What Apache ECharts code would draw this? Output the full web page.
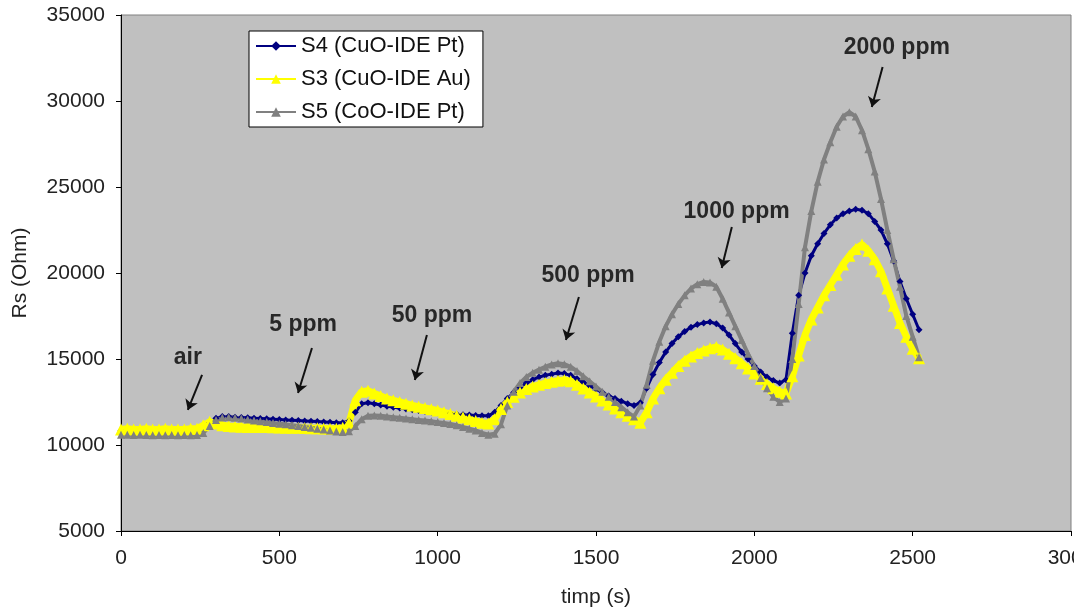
<!DOCTYPE html>
<html>
<head>
<meta charset="utf-8">
<script src="https://cdn.jsdelivr.net/npm/echarts@6/dist/echarts.min.js"></script>
<style>
  html, body { margin: 0; padding: 0; background: #fff; }
  #root { width: 1074px; height: 615px; }
</style>
</head>
<body>
<div id="root"></div>
<script>
// Rs (Ohm), sampled every 20 s from 0 to 2520 s
var s4 = [
  10850, 10800, 10800, 10820, 10800, 10780, 10800, 10800, 10780, 10800, 10800, 10780, 10800,
  10950, 11300, 11550, 11650, 11650, 11620, 11600, 11580, 11560, 11540, 11520, 11500, 11480, 11460, 11440, 11420, 11400, 11380, 11360, 11340, 11320, 11300, 11300,
  11400, 11900, 12400, 12450, 12400, 12330, 12260, 12200, 12150, 12100, 12050, 12000, 11960, 11920, 11880, 11850, 11820, 11790, 11760, 11740, 11720, 11700, 11700,
  11900, 12300, 12700, 13050, 13350, 13600, 13800, 13950, 14050, 14120, 14180, 14150, 14050, 13850, 13650, 13450, 13250, 13050, 12850, 12700, 12550, 12400, 12300,
  12450, 13300, 14100, 14800, 15400, 15900, 16300, 16600, 16850, 17000, 17100, 17150, 17050, 16800, 16400, 15900, 15400, 15000, 14600, 14250, 13950, 13750, 13600,
  13800, 16500, 18700, 20000, 21000, 21700, 22300, 22800, 23200, 23450, 23600, 23700, 23650, 23450, 23000, 22500, 21700, 20700, 19500, 18500, 17600, 16700
]
var s3 = [
  10900, 10950, 10900, 10900, 10950, 10900, 10900, 10950, 10900, 10900, 10900, 10950, 10950,
  11150, 11350, 11250, 11150, 11100, 11080, 11060, 11050, 11050, 11050, 11040, 11030, 11020, 11010, 11000, 11000, 10990, 10980, 10970, 10960, 10950, 10950, 11000,
  11300, 12600, 13100, 13150, 13000, 12850, 12700, 12600, 12500, 12400, 12300, 12230, 12150, 12080, 12000, 11900, 11800, 11700, 11600, 11500, 11400, 11300, 11250,
  11500, 12100, 12500, 12800, 13050, 13250, 13400, 13500, 13600, 13680, 13740, 13780, 13700, 13500, 13280, 13050, 12820, 12580, 12350, 12120, 11900, 11700, 11500,
  11300, 11900, 12700, 13300, 13800, 14200, 14600, 14900, 15150, 15350, 15500, 15620, 15700, 15550, 15300, 15050, 14750, 14450, 14150, 13850, 13550, 13300, 13100,
  13000, 14000, 15200, 16400, 17300, 18000, 18700, 19300, 19900, 20500, 21000, 21400, 21650, 21300, 20800, 20100, 19100, 18100, 17100, 16300, 15600, 15050
]
var s5 = [
  10600, 10600, 10580, 10600, 10580, 10560, 10580, 10560, 10580, 10560, 10580, 10560, 10580,
  10700, 11100, 11450, 11600, 11620, 11580, 11540, 11480, 11420, 11380, 11330, 11280, 11240, 11200, 11150, 11100, 11050, 11000, 10950, 10900, 10850, 10780, 10750,
  10800, 11100, 11500, 11700, 11720, 11700, 11660, 11620, 11580, 11540, 11500, 11460, 11420, 11380, 11330, 11280, 11220, 11150, 11050, 10950, 10850, 10700, 10600,
  10650, 11200, 12300, 13100, 13600, 13950, 14200, 14380, 14550, 14680, 14750, 14700, 14550, 14300, 14000, 13700, 13400, 13100, 12800, 12500, 12200, 11900, 11650,
  12300, 13500, 14900, 16000, 16900, 17600, 18200, 18700, 19100, 19350, 19480, 19450, 19200, 18500, 17700, 16900, 16100, 15300, 14600, 13900, 13300, 12800, 12500,
  12700, 15000, 18200, 21500, 23600, 25300, 26600, 27600, 28500, 29100, 29350, 29100, 28300, 27200, 25900, 24300, 22500, 20800, 19200, 17500, 16300, 15100
]
var step = 20

var seriesNames = ['S4 (CuO-IDE Pt)', 'S3 (CuO-IDE Au)', 'S5 (CoO-IDE Pt)']

// gas steps written on the chart, placed in data units
var notes = ['air', '5 ppm', '50 ppm', '500 ppm', '1000 ppm', '2000 ppm']
var notePos = [[211, 15060], [575, 16980], [982, 17500], [1475, 19830], [1944, 23550], [2450, 33080]]
var arrowFrom = [[256, 14070], [603, 15640], [966, 16400], [1446, 18600], [1929, 22670], [2405, 31980]]
var arrowTo = [[211, 12040], [559, 13020], [928, 13780], [1405, 16100], [1897, 20290], [2371, 29650]]

var font = 'Liberation Sans'

function pairs (vals) {
  return vals.map(function (v, i) { return [i * step, v] })
}

function plain (v) { return String(v) }

var chart = echarts.init(document.getElementById('root'))

var option = {
  animation: false,
  grid: {
    left: 121, right: 3, top: 15, bottom: 84,
    outerBoundsMode: 'none', containLabel: false,
    show: true, backgroundColor: '#C0C0C0', borderColor: '#808080', borderWidth: 1
  },
  legend: {
    data: seriesNames,
    orient: 'vertical',
    left: 249, top: 31,
    itemWidth: 40, itemHeight: 12, itemGap: 11,
    padding: [4, 12, 4, 6],
    backgroundColor: '#fff', borderColor: '#000', borderWidth: 1,
    textStyle: { fontFamily: font, fontSize: 22, color: '#111' }
  },
  xAxis: {
    type: 'value', min: 0, max: 3000, interval: 500,
    name: 'timp (s)', nameLocation: 'middle', nameGap: 56,
    nameTextStyle: { fontFamily: font, fontSize: 21, color: '#222' },
    axisLine: { show: true, lineStyle: { color: '#000' } },
    axisTick: { show: true, length: 5, lineStyle: { color: '#000' } },
    axisLabel: { fontFamily: font, fontSize: 21, color: '#222', margin: 17, formatter: plain },
    splitLine: { show: false }
  },
  yAxis: {
    type: 'value', min: 5000, max: 35000, interval: 5000,
    name: 'Rs (Ohm)', nameLocation: 'middle', nameGap: 90,
    nameTextStyle: { fontFamily: font, fontSize: 21, color: '#222' },
    axisLine: { show: true, lineStyle: { color: '#000' } },
    axisTick: { show: true, length: 5, lineStyle: { color: '#000' } },
    axisLabel: { fontFamily: font, fontSize: 21, color: '#222', margin: 16, formatter: plain },
    splitLine: { show: false }
  },
  series: [
    {
      name: seriesNames[0], type: 'line', data: pairs(s4),
      symbol: 'diamond', symbolSize: 7, showAllSymbol: true,
      lineStyle: { color: '#000080', width: 3 },
      itemStyle: { color: '#000080' }
    },
    {
      name: seriesNames[1], type: 'line', data: pairs(s3),
      symbol: 'triangle', symbolSize: 12, showAllSymbol: true,
      lineStyle: { color: '#FFFF00', width: 7 },
      itemStyle: { color: '#FFFF00' }
    },
    {
      name: seriesNames[2], type: 'line', data: pairs(s5),
      symbol: 'triangle', symbolSize: 8, showAllSymbol: true,
      lineStyle: { color: '#808080', width: 4 },
      itemStyle: { color: '#808080' }
    },
    {
      type: 'lines', coordinateSystem: 'cartesian2d', silent: true,
      symbol: ['none', 'arrow'], symbolSize: 10,
      lineStyle: { color: '#111', width: 2, opacity: 1 },
      data: arrowFrom.map(function (p, i) { return { coords: [p, arrowTo[i]] } }),
      z: 5
    },
    {
      type: 'scatter', silent: true, symbolSize: 1,
      itemStyle: { color: 'rgba(0,0,0,0)' },
      label: {
        show: true, position: 'inside', formatter: '{b}',
        fontFamily: font, fontSize: 23, fontWeight: 'bold', color: '#000'
      },
      data: notes.map(function (n, i) { return { name: n, value: notePos[i] } }),
      z: 5
    }
  ]
}

chart.setOption(option)
</script>
</body>
</html>
